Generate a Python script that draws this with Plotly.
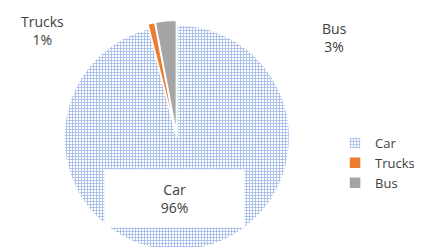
import plotly.graph_objects as go

labels = ["Car", "Trucks", "Bus"]
values = [96, 1, 3]
colors = ["#5B84D6", "#ED7D31", "#A5A5A5"]
pulls = [0, 0.04, 0.04]

total = sum(values)
pcts = [f"{round(v / total * 100)}%" for v in values]

fig = go.Figure(go.Pie(
    labels=labels,
    values=values,
    sort=False,
    direction="clockwise",
    rotation=0,
    pull=pulls,
    textinfo="none",
    hoverinfo="label+percent",
    marker=dict(
        colors=colors,
        line=dict(color="white", width=1.5),
        pattern=dict(
            shape=["+", "", ""],
            fgcolor=["#4F7BD3", "#ED7D31", "#A5A5A5"],
            bgcolor=["white", "#ED7D31", "#A5A5A5"],
            size=[3, 8, 8],
            solidity=[0.5, 0.3, 0.3],
            fillmode="overlay",
        ),
    ),
    domain=dict(x=[0.0, 0.80], y=[0, 0.95]),
))

font_family = "Open Sans, Liberation Sans, sans-serif"
label_pos = {
    "Car": dict(x=166 / 422, y=1 - 190 / 247, bg="white"),
    "Trucks": dict(x=34 / 422, y=1 - 23 / 247, bg=None),
    "Bus": dict(x=326 / 422, y=1 - 29 / 247, bg=None),
}
annotations = []
for lab, p in zip(labels, pcts):
    pos = label_pos[lab]
    a = dict(
        x=pos["x"], y=pos["y"], xref="paper", yref="paper",
        text=f"{lab}<br>{p}", showarrow=False,
        font=dict(family=font_family, size=14, color="#404040"),
        align="center", xanchor="center", yanchor="middle",
    )
    if pos["bg"]:
        a.update(bgcolor="white", width=137, height=55)
    annotations.append(a)

fig.update_layout(
    width=422, height=247,
    margin=dict(l=0, r=0, t=0, b=0),
    paper_bgcolor="white",
    plot_bgcolor="white",
    showlegend=True,
    legend=dict(
        x=0.775, y=1 - 155 / 247, xanchor="left", yanchor="middle",
        font=dict(family=font_family, size=13, color="#404040"),
        tracegroupgap=0, itemwidth=30,
    ),
    annotations=annotations,
)

fig.write_html("out.html")
